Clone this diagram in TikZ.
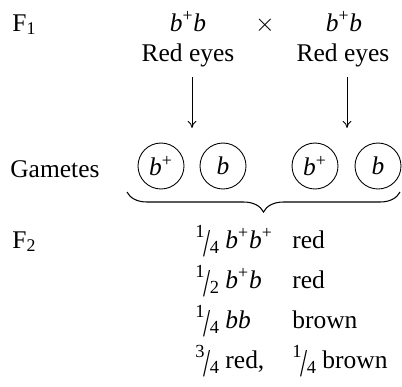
\documentclass[tikz,border=0pt]{standalone}
\usepackage{fontspec}
\setmainfont{Liberation Serif}
\usepackage{tikz}
\usetikzlibrary{positioning, arrows.meta, decorations.pathreplacing}
\newcommand{\bwt}{\textit{b}\textsuperscript{+}}
\newcommand{\frc}[2]{{\fontsize{10.5}{12}\selectfont\raisebox{0.55em}{#1}}\kern-0.05em\raisebox{-0.32em}{\scalebox{1}[1.55]{/}}\kern-0.02em{\fontsize{10.5}{12}\selectfont\raisebox{-0.28em}{#2}}}
\tikzset{
  txt/.style={anchor=base west, inner sep=0pt, font=\fontsize{14.5}{17}\selectfont},
  ctr/.style={txt, anchor=base},
  gamete/.style={
    circle, draw, line width=0.5pt, minimum size=0.92cm,
    inner sep=0pt, font=\fontsize{14.5}{17}\selectfont
  },
  arrow/.style={draw, -{To[length=4pt,width=5pt]}, line width=0.5pt},
  cross brace/.style={decorate, line width=0.6pt,
    decoration={brace, mirror, amplitude=0.4cm}},
}
\begin{document}
\begin{tikzpicture}[x=0.02cm, y=-0.02cm]
  \useasboundingbox (0,0) rectangle (402,386);
  % F1 cross
  \node[txt] (F1) at (12,31) {F\textsubscript{1}};
  \node[ctr] (P1) at (188,31) {\bwt\textit{b}};
  \node[ctr] (X) at (265,31) {$\times$};
  \node[ctr] (P2) at (344,31) {\bwt\textit{b}};
  \node[ctr] (R1) at (188,61) {Red eyes};
  \node[ctr] (R2) at (343,61) {Red eyes};
  \coordinate (a1s) at (192,77);  \coordinate (a1e) at (192,128);
  \coordinate (a2s) at (347,77);  \coordinate (a2e) at (347,128);
  \draw[arrow] (a1s) -- (a1e);
  \draw[arrow] (a2s) -- (a2e);
  % gametes
  \node[txt] (Gam) at (10,177) {Gametes};
  \node[gamete] (G1) at (161,166) {\bwt};
  \node[gamete] (G2) at (223,166) {\textit{b}};
  \node[gamete] (G3) at (315,166) {\bwt};
  \node[gamete] (G4) at (378,166) {\textit{b}};
  \coordinate (bl) at (127,192);
  \coordinate (br) at (400,192);
  \draw[cross brace] (bl) -- (br);
  % F2 ratios
  \node[txt] (F2) at (12,248) {F\textsubscript{2}};
  \node[txt] (g1) at (195,248) {\frc{1}{4} \bwt\bwt};
  \node[txt] (p1) at (292,248) {red};
  \node[txt] (g2) at (195,288) {\frc{1}{2} \bwt\textit{b}};
  \node[txt] (p2) at (292,288) {red};
  \node[txt] (g3) at (195,328) {\frc{1}{4} \textit{bb}};
  \node[txt] (p3) at (292,328) {brown};
  \node[txt] (g4) at (195,368) {\frc{3}{4} red,};
  \node[txt] (p4) at (292,368) {\frc{1}{4} brown};
\end{tikzpicture}
\end{document}
